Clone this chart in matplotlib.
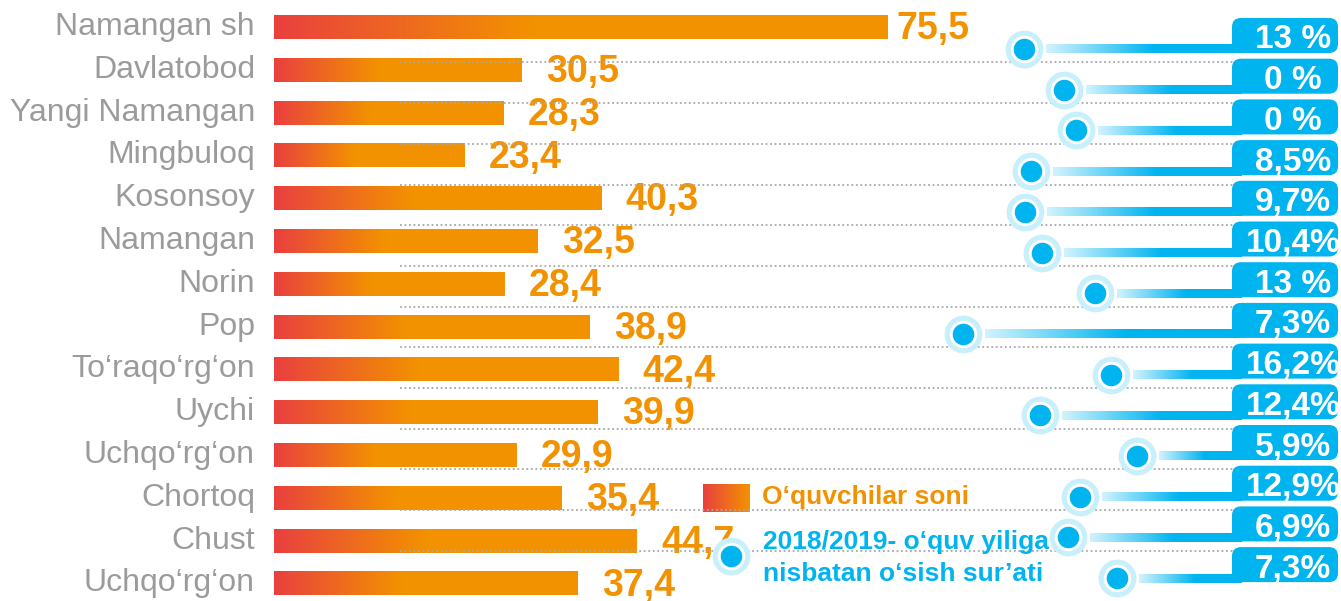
import numpy as np
import matplotlib
matplotlib.use('Agg')
import matplotlib.pyplot as plt
from matplotlib.colors import LinearSegmentedColormap
from matplotlib.patches import FancyBboxPatch

# data
districts = ["Namangan sh", "Davlatobod", "Yangi Namangan", "Mingbuloq", "Kosonsoy",
             "Namangan", "Norin", "Pop", "To\u2018raqo\u2018rg\u2018on", "Uychi",
             "Uchqo\u2018rg\u2018on", "Chortoq", "Chust", "Uchqo\u2018rg\u2018on"]
pupils = [75.5, 30.5, 28.3, 23.4, 40.3, 32.5, 28.4, 38.9, 42.4, 39.9, 29.9, 35.4, 44.7, 37.4]
growth = ["13 %", "0 %", "0 %", "8,5%", "9,7%", "10,4%", "13 %", "7,3%",
          "16,2%", "12,4%", "5,9%", "12,9%", "6,9%", "7,3%"]
legend_bar = "O\u2018quvchilar soni"
legend_growth = "2018/2019- o\u2018quv yiliga\nnisbatan o\u2018sish sur\u2019ati"

# decorative marker positions (px) on the growth panel
dot_x = [1024, 1064, 1076, 1031, 1025, 1042, 1095, 963, 1111, 1040, 1137, 1080, 1068, 1117]

RED = '#E9403F'
ORANGE = '#F39200'
BLUE = '#00B4F0'
PALE = '#D2F3FE'
HALO = '#C8EFFC'
GREY = '#9B9B9B'

plt.rcParams['font.family'] = ['Liberation Sans', 'DejaVu Sans']

W, H = 1341, 601
fig = plt.figure(figsize=(W / 100, H / 100), dpi=100)

# ---- bars ----
px_unit = 8.12     # pixels per pupil unit
x0 = 274           # bar origin, px
row_h = 42.8
row0 = 27
ax = fig.add_axes([0, 0, 1, 1])
ax.axis('off')

bar_cmap = LinearSegmentedColormap.from_list(
    'bar', [(0, RED), (0.42, ORANGE), (1, ORANGE)])
grad = np.linspace(0, 1, 256).reshape(1, -1)
bh = 0.56
vmax = max(pupils)
for i, (name, v) in enumerate(zip(districts, pupils)):
    ax.imshow(grad, cmap=bar_cmap, aspect='auto', interpolation='bilinear',
              extent=(0, v, i + bh / 2, i - bh / 2), zorder=2)
    ax.text(-19 / px_unit, i, name, ha='right', va='center', fontsize=23,
            color=GREY)
    pad = 1.2 if v == vmax else 3.0
    ax.text(v + pad, i + 0.05, f"{v:.1f}".replace('.', ','), ha='left',
            va='center', fontsize=27, fontweight='bold', color=ORANGE, zorder=3)

# legend swatch
ax.imshow(np.linspace(0, 1, 64).reshape(1, -1),
          cmap=LinearSegmentedColormap.from_list('lg', [RED, ORANGE]),
          aspect='auto', interpolation='bilinear',
          extent=((703 - x0) / px_unit, (750 - x0) / px_unit,
                  (512 - row0) / row_h, (484 - row0) / row_h), zorder=2)
ax.text((762 - x0) / px_unit, (497 - row0) / row_h, legend_bar, ha='left',
        va='center', fontsize=19, fontweight='bold', color=ORANGE)
ax.set_xlim(-x0 / px_unit, (W - x0) / px_unit)
ax.set_ylim((H - row0) / row_h, -row0 / row_h)

# ---- growth panel ----
g_h = 40.7
g0 = 49
ax2 = fig.add_axes([0, 0, 1, 1], facecolor='none')
ax2.axis('off')

# dotted separators
for k in range(len(growth) - 1):
    ax2.plot([400, 1240], [k + 0.33, k + 0.33], ls=(0, (1, 1.5)), lw=1.3,
             color='#A8A8A8', zorder=4)

line_cmap = LinearSegmentedColormap.from_list(
    'ln', [(0, PALE), (0.55, BLUE), (1, BLUE)])
lt = 9 / g_h
box_l, box_r = 1232, 1338


def marker(x, y):
    ax2.scatter([x], [y], s=740, color=HALO, zorder=8, linewidths=0)
    ax2.scatter([x], [y], s=390, color='white', zorder=9, linewidths=0)
    ax2.scatter([x], [y], s=240, color=BLUE, zorder=10, linewidths=0)


for k, (lab, dx) in enumerate(zip(growth, dot_x)):
    ax2.imshow(grad, cmap=line_cmap, aspect='auto', interpolation='bilinear',
               extent=(dx + 22, box_l + 10, k + lt / 2, k - lt / 2), zorder=5)
    box = FancyBboxPatch((box_l, k - 31 / g_h), box_r - box_l, 35 / g_h,
                         boxstyle='round,pad=0,rounding_size=9',
                         mutation_aspect=1 / g_h, fc=BLUE, ec='none', zorder=6)
    ax2.add_patch(box)
    ax2.text(1293, k - 9 / g_h, lab, ha='center', va='center', fontsize=24,
             fontweight='bold', color='white', zorder=7)
    marker(dx, k)

# growth legend marker + text
marker(731, (556 - g0) / g_h)
ax2.text(763, (558 - g0) / g_h, legend_growth, ha='left', va='center',
         fontsize=19, fontweight='bold', color=BLUE, linespacing=1.45, zorder=7)
ax2.set_xlim(0, W)
ax2.set_ylim((H - g0) / g_h, -g0 / g_h)

fig.savefig('out.png', dpi=100)
